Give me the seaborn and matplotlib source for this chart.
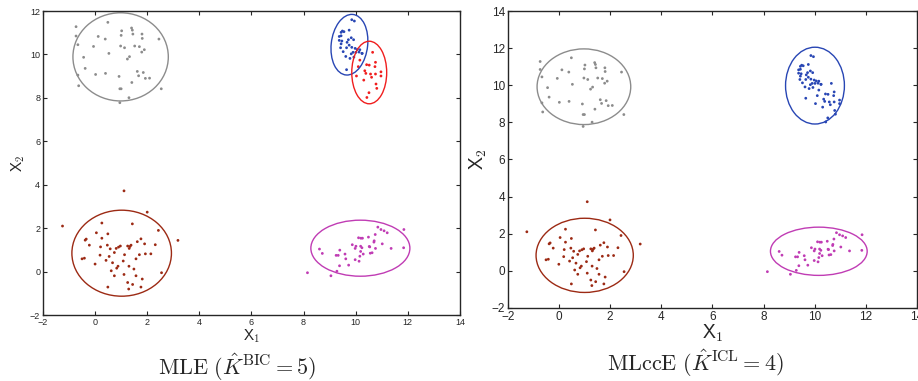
import numpy as np
import pandas as pd
import seaborn as sns
import matplotlib
matplotlib.use("Agg")
import matplotlib.pyplot as plt
from matplotlib.patches import Ellipse

# puntos (mismos datos en los dos paneles)
gris_x = [-0.73, 0.49, -0.73, 0.12, 0.39, 1.02, 1.00, 1.40, 1.43, 1.45, 1.80, 1.81, 2.45,
          -0.66, -0.06, 0.98, 1.13, 1.52, 1.70, 1.89, 1.79, 0.53, 1.32, 1.24, -0.44, -0.38,
          -0.66, 0.02, 0.40, 0.92, 1.62, 1.67, 1.85, 1.93, 2.09, 1.41, -0.63, 0.95, 1.00,
          2.54, 1.30, 0.95]
gris_y = [11.28, 11.48, 10.85, 10.83, 10.71, 11.09, 10.88, 11.22, 11.12, 10.94, 10.94, 10.74,
          10.71, 10.45, 10.37, 10.39, 10.31, 10.39, 10.36, 10.22, 10.11, 10.05, 9.90, 9.79,
          9.87, 9.36, 9.05, 9.08, 9.13, 8.99, 9.22, 9.02, 9.17, 8.90, 8.91, 8.71, 8.56, 8.42,
          8.42, 8.42, 8.01, 7.78]

azul_x = [9.85, 9.95, 9.49, 9.44, 9.55, 9.75, 9.37, 9.44, 9.83, 9.37, 9.47, 9.92, 9.44,
          9.67, 9.75, 9.65, 9.42, 9.85, 9.98, 10.06, 10.16, 9.90, 10.01, 10.13, 10.24, 9.62,
          9.83, 9.78, 9.65, 9.93, 9.52, 9.72, 10.25]
azul_y = [11.60, 11.54, 11.08, 11.02, 11.05, 11.12, 10.83, 10.86, 10.77, 10.65, 10.62, 10.68,
          10.49, 10.56, 10.43, 10.31, 10.31, 10.33, 10.28, 10.23, 10.22, 10.10, 10.10, 10.11,
          10.05, 9.91, 10.03, 9.82, 9.30, 9.88, 10.13, 10.68, 10.05]

rojo_x = [10.65, 10.16, 10.76, 10.42, 10.52, 10.10, 10.74, 10.35, 10.39, 10.57, 10.03, 10.76,
          10.97, 10.97, 10.31, 10.61, 10.78, 10.81, 10.51, 10.43]
rojo_y = [10.10, 9.74, 9.64, 9.53, 9.51, 9.44, 9.44, 9.25, 9.13, 9.10, 9.01, 9.10, 9.20, 9.01,
          8.82, 8.95, 8.64, 8.44, 8.24, 8.02]

cafe_x = [1.11, 2.00, -1.25, 0.26, 1.43, 2.43, 3.18, 0.05, 0.49, -0.38, -0.34, 0.26, 1.76,
          1.62, 1.90, 2.31, -0.22, 0.47, 0.21, 0.58, 0.81, 0.90, 0.97, 1.25, 1.34, 1.38, 1.31,
          0.74, 1.13, 1.70, 1.93, 2.14, 0.19, 0.54, -0.50, -0.41, 1.57, 1.08, 0.00, 0.42, 0.67,
          0.88, 0.83, 1.30, 1.49, 0.62, 1.11, 0.74, 1.57, 2.55, 1.81, 1.25, 1.44, 0.49, 1.29,
          1.76]
cafe_y = [3.72, 2.74, 2.10, 2.24, 2.20, 1.90, 1.44, 1.79, 1.74, 1.45, 1.50, 1.54, 1.51, 1.38,
          1.28, 1.24, 1.22, 1.22, 1.14, 1.05, 1.07, 1.13, 1.18, 1.18, 1.16, 1.22, 1.07, 0.88,
          0.78, 0.78, 0.82, 0.82, 0.76, 0.70, 0.59, 0.62, 0.59, 0.49, 0.35, 0.52, 0.41, 0.25,
          0.16, 0.25, 0.12, 0.04, -0.13, -0.19, -0.19, -0.05, -0.34, -0.50, -0.59, -0.71,
          -0.80, -0.71]

magenta_x = [8.15, 9.05, 9.28, 8.61, 8.72, 9.25, 9.33, 9.39, 9.38, 9.59, 9.62, 9.73, 9.87,
             9.98, 10.01, 9.98, 10.11, 10.20, 10.26, 10.19, 10.24, 10.19, 10.16, 10.13, 10.29,
             10.49, 10.54, 10.52, 10.56, 10.63, 10.71, 10.75, 10.76, 10.70, 10.85, 10.97,
             11.09, 11.21, 11.02, 11.36, 11.85, 11.84]
magenta_y = [-0.05, -0.19, 0.02, 1.04, 0.84, 0.75, 0.75, 0.99, 0.27, 0.81, 0.59, 0.30, 1.24,
             1.07, 1.17, 0.55, 1.56, 1.54, 1.54, 1.17, 1.10, 0.93, 0.71, 0.48, 0.81, 1.59,
             1.14, 1.16, 0.85, 0.87, 1.42, 1.71, 1.07, 1.36, 2.05, 1.94, 1.88, 1.79, 1.28,
             1.07, 1.94, 1.10]

# elipses: centro x, centro y, semieje x, semieje y, angulo
elipses_mle = {
    'gris': (0.98, 9.89, 1.83, 2.03, 0),
    'azul': (9.76, 10.45, 0.70, 1.40, -5),
    'rojo': (10.52, 9.17, 0.67, 1.44, 0),
    'cafe': (1.02, 0.85, 1.91, 1.98, 0),
    'magenta': (10.18, 1.08, 1.90, 1.29, 0),
}
elipses_mlcce = {
    'gris': (0.98, 9.92, 1.83, 2.04, 0),
    'azul': (10.01, 9.98, 1.15, 2.07, 0),
    'cafe': (1.01, 0.83, 1.90, 2.00, 0),
    'magenta': (10.16, 1.05, 1.89, 1.30, 0),
}

colores = {'gris': '#8c8c8c', 'azul': '#2846b4', 'rojo': '#f01e1e',
           'cafe': '#9c2a14', 'magenta': '#c03cb4'}

xs = {'gris': gris_x, 'azul': azul_x, 'rojo': rojo_x, 'cafe': cafe_x, 'magenta': magenta_x}
ys = {'gris': gris_y, 'azul': azul_y, 'rojo': rojo_y, 'cafe': cafe_y, 'magenta': magenta_y}

filas = []
for k in xs:
    for a, b in zip(xs[k], ys[k]):
        filas.append((a, b, k))
df = pd.DataFrame(filas, columns=['x1', 'x2', 'mle'])
df['mlcce'] = df['mle'].replace({'rojo': 'azul'})

sns.set_style('ticks')
plt.rcParams['font.family'] = ['Liberation Sans', 'DejaVu Sans']
plt.rcParams['mathtext.fontset'] = 'cm'

fig = plt.figure(figsize=(9.18, 3.81), dpi=100)
ax1 = fig.add_axes([0.0468, 0.173, 0.4542, 0.798])
ax2 = fig.add_axes([0.553, 0.192, 0.446, 0.779])


def panel(ax, col, elipses, ylim, yticks, fs_tick, fs_lab):
    sns.scatterplot(data=df, x='x1', y='x2', hue=col, palette=colores, s=4,
                    linewidth=0, legend=False, ax=ax)
    for k, (cx, cy, a, b, ang) in elipses.items():
        ax.add_patch(Ellipse((cx, cy), 2 * a, 2 * b, angle=ang, fill=False,
                             edgecolor=colores[k], lw=1.0))
    ax.set_xlim(-2, 14)
    ax.set_ylim(*ylim)
    ax.set_xticks(range(-2, 15, 2))
    ax.set_yticks(yticks)
    ax.tick_params(direction='in', top=True, right=True, labelsize=fs_tick,
                   length=3, width=0.8, pad=2)
    for s in ax.spines.values():
        s.set_linewidth(1.0)
    ax.set_xlabel('$\\mathsf{X_1}$', fontsize=fs_lab, labelpad=0)
    ax.set_ylabel('$\\mathsf{X_2}$', fontsize=fs_lab, labelpad=2)


panel(ax1, 'mle', elipses_mle, (-2, 12), range(-2, 13, 2), 6.5, 11)
panel(ax2, 'mlcce', elipses_mlcce, (-2, 14), range(-2, 15, 2), 8.5, 14)

fig.text(0.258, 0.037, r'$\mathrm{MLE}\ (\hat{K}^{\mathrm{BIC}} = 5)$',
         ha='center', va='center', fontsize=16)
fig.text(0.757, 0.047, r'$\mathrm{MLccE}\ (\hat{K}^{\mathrm{ICL}} = 4)$',
         ha='center', va='center', fontsize=16)

plt.savefig('out.png', dpi=100)
